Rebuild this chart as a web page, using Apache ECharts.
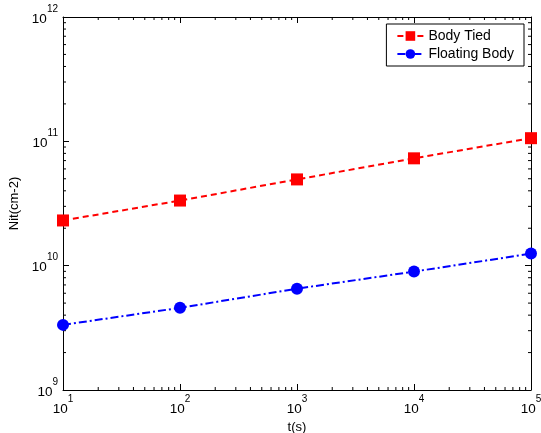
<!DOCTYPE html>
<html><head><meta charset="utf-8">
<script src="https://cdn.jsdelivr.net/npm/echarts@6/dist/echarts.min.js"></script>
<style>html,body{margin:0;padding:0;background:#fff}#c{width:541px;height:433px}</style>
</head><body><div id="c"></div>
<script>
var times = [10, 100, 1000, 10000, 100000];
var bodyTied = [2.31e10, 3.34e10, 4.94e10, 7.3e10, 1.06e11];
var floatingBody = [3.34e9, 4.58e9, 6.53e9, 8.96e9, 1.25e10];
var xRange = [10, 100000];
var yRange = [1e9, 1e12];

function minorList(lo, hi) {
  var out = [];
  for (var d = lo; d < hi; d *= 10) {
    for (var m = 2; m <= 9; m++) out.push(m * d);
  }
  return out;
}
var xMinor = minorList(xRange[0], xRange[1]);
var yMinor = minorList(yRange[0], yRange[1]);

var FONT = 'Liberation Sans, Arial, sans-serif';
function expLabel(v) {
  var e = Math.round(Math.log10(v));
  return '{b|10}{s|' + e + '}';
}
var rich = {
  b: {fontSize: 13.5, fontFamily: FONT, color: '#000', verticalAlign: 'bottom', lineHeight: 22},
  s: {fontSize: 10, fontFamily: FONT, color: '#000', verticalAlign: 'top', lineHeight: 22}
};

var chart = echarts.init(document.getElementById('c'));
var axisCommon = {
  type: 'log', logBase: 10,
  axisLine: {show: true, onZero: false, lineStyle: {color: '#000', width: 1}},
  axisTick: {show: true, inside: true, length: 6, lineStyle: {color: '#000'}},
  splitLine: {show: false}
};

function minorSeries(values, axis, xi, yi) {
  return {
    type: 'custom', xAxisIndex: xi, yAxisIndex: yi, silent: true,
    data: values.map(function (v) { return [v]; }),
    encode: axis === 'x' ? {x: 0} : {y: 0},
    renderItem: function (params, api) {
      var cs = params.coordSys;
      var v = api.value(0);
      var L = 3, shapes = [];
      if (axis === 'x') {
        var px = api.coord([v, yRange[0]])[0];
        shapes.push({type: 'line', shape: {x1: px, y1: cs.y + cs.height, x2: px, y2: cs.y + cs.height - L}, style: {stroke: '#000', lineWidth: 1}});
        shapes.push({type: 'line', shape: {x1: px, y1: cs.y, x2: px, y2: cs.y + L}, style: {stroke: '#000', lineWidth: 1}});
      } else {
        var py = api.coord([xRange[0], v])[1];
        shapes.push({type: 'line', shape: {x1: cs.x, y1: py, x2: cs.x + L, y2: py}, style: {stroke: '#000', lineWidth: 1}});
        shapes.push({type: 'line', shape: {x1: cs.x + cs.width, y1: py, x2: cs.x + cs.width - L, y2: py}, style: {stroke: '#000', lineWidth: 1}});
      }
      return {type: 'group', children: shapes};
    }
  };
}

chart.setOption({
  animation: false,
  backgroundColor: '#fff',
  textStyle: {fontFamily: FONT},
  grid: {left: 63, right: 10, top: 17, bottom: 43, containLabel: false, outerBoundsMode: 'none'},
  legend: {
    orient: 'vertical', right: 17, top: 24,
    padding: [5, 10, 5, 10], itemGap: 4, itemWidth: 26, itemHeight: 12,
    borderColor: '#000', borderWidth: 1, backgroundColor: '#fff', borderRadius: 0,
    textStyle: {fontSize: 14, fontFamily: FONT, color: '#000'},
    data: ['Body Tied', 'Floating Body']
  },
  xAxis: [
    Object.assign({}, axisCommon, {min: xRange[0], max: xRange[1], position: 'bottom',
      name: 't(s)', nameLocation: 'middle', nameGap: 25,
      nameTextStyle: {fontSize: 13, fontFamily: FONT, color: '#000'},
      axisLabel: {formatter: expLabel, rich: rich, margin: 4}}),
    Object.assign({}, axisCommon, {min: xRange[0], max: xRange[1], position: 'top', axisLabel: {show: false}})
  ],
  yAxis: [
    Object.assign({}, axisCommon, {min: yRange[0], max: yRange[1], position: 'left',
      name: 'Nit(cm-2)', nameLocation: 'middle', nameGap: 37,
      nameTextStyle: {fontSize: 13, fontFamily: FONT, color: '#000'},
      axisLabel: {formatter: expLabel, rich: rich, margin: 5, padding: [0, 0, 4, 0]}}),
    Object.assign({}, axisCommon, {min: yRange[0], max: yRange[1], position: 'right', axisLabel: {show: false}})
  ],
  series: [
    {
      name: 'Body Tied', type: 'line', xAxisIndex: 0, yAxisIndex: 0,
      data: times.map(function (t, i) { return [t, bodyTied[i]]; }),
      symbol: 'rect', symbolSize: 12,
      itemStyle: {color: '#ff0000'},
      lineStyle: {color: '#ff0000', width: 2, type: [6, 4]}
    },
    {
      name: 'Floating Body', type: 'line', xAxisIndex: 0, yAxisIndex: 0,
      data: times.map(function (t, i) { return [t, floatingBody[i]]; }),
      symbol: 'circle', symbolSize: 12,
      itemStyle: {color: '#0000ff'},
      lineStyle: {color: '#0000ff', width: 2, type: [8, 3, 2, 3]}
    },
    minorSeries(xMinor, 'x', 0, 0),
    minorSeries(yMinor, 'y', 0, 0)
  ]
});
</script></body></html>
